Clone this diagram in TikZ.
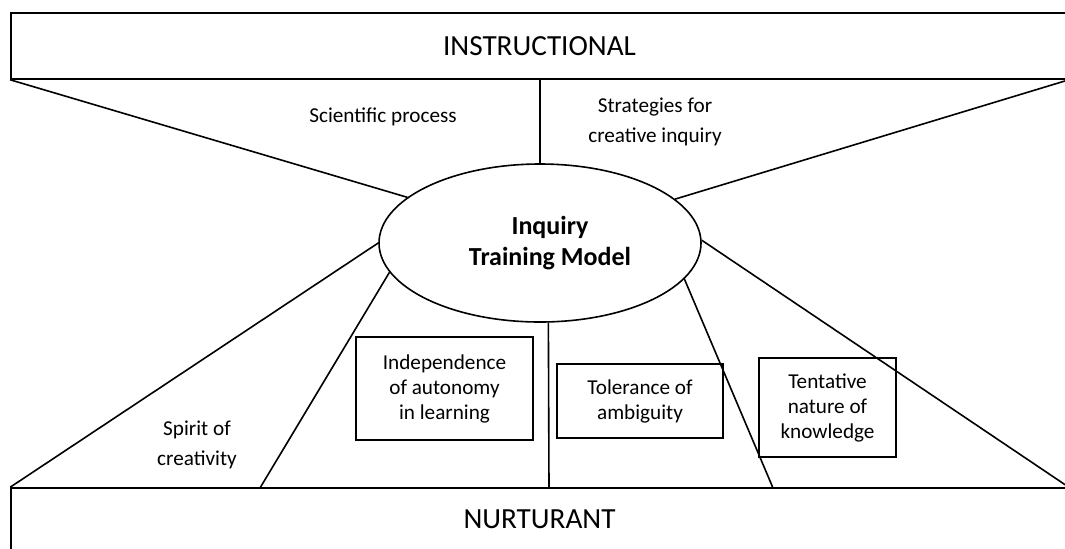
\documentclass[tikz,border=0pt]{standalone}
\usepackage{fontspec}
\setmainfont{Carlito}
\usetikzlibrary{shapes.geometric}

\begin{document}
\begin{tikzpicture}[x=0.5pt,y=-0.5pt,line width=0.8pt,
    band/.style={draw,inner sep=0pt,font=\fontsize{14.6}{17}\selectfont},
    lbl/.style={align=center,font=\fontsize{10.6}{15}\selectfont},
    tbox/.style={draw,align=center,inner sep=0pt,font=\fontsize{10.6}{12.5}\selectfont}]
      \useasboundingbox (0,0) rectangle (1065,548);
      \node[band,minimum width=528.5pt,minimum height=33pt] (a) at (539.5,46) {INSTRUCTIONAL};
      \node[band,minimum width=528.5pt,minimum height=31pt] (b) at (539.5,519) {NURTURANT};
      \node[ellipse,draw,minimum width=161pt,minimum height=79pt,
            font=\fontsize{13}{15.5}\selectfont\bfseries,align=center] (m) at (540,243)
            {\hspace*{10pt}Inquiry\\\hspace*{10pt}Training Model};
      \node[lbl] (c) at (383,117) {Scientific process};
      \node[lbl] (d) at (655,122) {Strategies for\\creative inquiry};
      \node[lbl] (e) at (197,445) {Spirit of\\creativity};
      \node[tbox,minimum width=88.5pt,minimum height=51.5pt] (f) at (444.5,388.5) {Independence\\of autonomy\\in learning};
      \node[tbox,minimum width=83pt,minimum height=37pt] (g) at (640,401) {Tolerance of\\ambiguity};
      \node[tbox,minimum width=68.5pt,minimum height=49.5pt] (h) at (827.5,407.5) {Tentative\\nature of\\knowledge};
      \coordinate (p) at (260,488);
      \coordinate (q) at (549,488);
      \coordinate (r) at (773,488);
      % upper spokes
      \draw (a.south west) -- (m.161);
      \draw (m.north) -- (m.north |- a.south);
      \draw (a.south east) -- (m.18);
      % lower spokes
      \draw (m.180) -- (b.north west);
      \draw (m.191) -- (p);
      \draw (m.276) -- (q);
      \draw (m.346) -- (r);
      \draw (m.1) -- (b.north east);
    \end{tikzpicture}
\end{document}
